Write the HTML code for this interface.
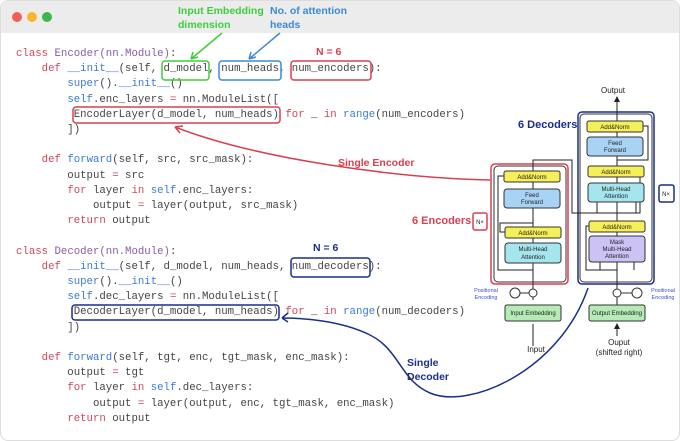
<!DOCTYPE html>
<html><head><meta charset="utf-8"><style>
body{margin:0;width:680px;height:441px;background:#fff;overflow:hidden;position:relative;font-family:"Liberation Sans",sans-serif}
.win{position:absolute;left:0;top:0;width:678px;height:439px;border:1px solid #ddd;border-radius:8px;overflow:hidden;background:#fff}
.bar{position:absolute;left:0;top:0;width:100%;height:32px;background:#ececec}
.dot{position:absolute;top:11px;width:10px;height:10px;border-radius:50%}
pre{position:absolute;left:16px;margin:0;font-family:"Liberation Mono",monospace;font-size:10.7px;line-height:15.2px;color:#444}
.k{color:#d0485a}.f{color:#3a7bd5}.c{color:#8a5ca8}
.lab{position:absolute;font-weight:bold;font-size:10.5px;line-height:14px}
</style></head><body>
<div class="win">
<div class="bar"></div>
<div class="dot" style="left:11px;background:#f0605a"></div>
<div class="dot" style="left:26px;background:#f7b530"></div>
<div class="dot" style="left:41px;background:#3cb84a"></div>
</div>
<pre style="top:47px"><span class="k">class</span> <span class="c">Encoder(nn.Module)</span>:
    <span class="k">def</span> <span class="f">__init__</span>(self, d_model, num_heads, num_encoders):
        <span class="f">super</span>().<span class="f">__init__</span>()
        <span class="f">self</span>.enc_layers <span class="k">=</span> nn.ModuleList([
         EncoderLayer(d_model, num_heads) <span class="k">for</span> _ <span class="k">in</span> <span class="f">range</span>(num_encoders)
        ])

    <span class="k">def</span> <span class="f">forward</span>(self, src, src_mask):
        output <span class="k">=</span> src
        <span class="k">for</span> layer <span class="k">in</span> <span class="f">self</span>.enc_layers:
            output <span class="k">=</span> layer(output, src_mask)
        <span class="k">return</span> output

<span class="k">class</span> <span class="c">Decoder(nn.Module)</span>:
    <span class="k">def</span> <span class="f">__init__</span>(self, d_model, num_heads, num_decoders):
        <span class="f">super</span>().<span class="f">__init__</span>()
        <span class="f">self</span>.dec_layers <span class="k">=</span> nn.ModuleList([
         DecoderLayer(d_model, num_heads) <span class="k">for</span> _ <span class="k">in</span> <span class="f">range</span>(num_decoders)
        ])

    <span class="k">def</span> <span class="f">forward</span>(self, tgt, enc, tgt_mask, enc_mask):
        output <span class="k">=</span> tgt
        <span class="k">for</span> layer <span class="k">in</span> <span class="f">self</span>.dec_layers:
            output <span class="k">=</span> layer(output, enc, tgt_mask, enc_mask)
        <span class="k">return</span> output</pre>
<div class="lab" style="left:178px;top:4px;color:#3ccf3c">Input Embedding<br>dimension</div>
<div class="lab" style="left:270px;top:4px;color:#3a8ad8">No. of attention<br>heads</div>
<div class="lab" style="left:316px;top:45px;color:#d84050">N = 6</div>
<div class="lab" style="left:313px;top:241px;color:#1a2f8a">N = 6</div>
<div class="lab" style="left:338px;top:156px;color:#d84050">Single Encoder</div>
<div class="lab" style="left:407px;top:356px;color:#1a2f8a">Single<br>Decoder</div>
<div class="lab" style="left:412px;top:214px;color:#d84050;font-size:11px">6 Encoders</div>
<div class="lab" style="left:518px;top:118px;color:#1a2f8a;font-size:11px">6 Decoders</div>
<svg width="680" height="441" style="position:absolute;left:0;top:0" font-family="Liberation Sans,sans-serif">
<defs><marker id="a" markerWidth="6" markerHeight="6" refX="5" refY="3" orient="auto"><path d="M0,0L6,3L0,6z" fill="#222"/></marker></defs>
<g fill="none" stroke-width="1.5">
<rect x="162" y="61" width="47" height="19" rx="3" stroke="#3ccf3c"/>
<rect x="219" y="61" width="62" height="19" rx="3" stroke="#3a8ad8"/>
<rect x="291" y="61" width="80" height="19" rx="3" stroke="#d84050"/>
<rect x="73" y="107" width="207" height="16" rx="3" stroke="#d84050"/>
<rect x="291" y="258" width="79" height="19" rx="3" stroke="#1a2f8a"/>
<rect x="72" y="305" width="207" height="15" rx="3" stroke="#1a2f8a"/>
<path d="M222,33L191,59M191,59L193,52M191,59L198,57" stroke="#3ccf3c"/>
<path d="M280,33L249,59M249,59L251,52M249,59L256,57" stroke="#3a8ad8"/>
<path d="M490,180C400,178 260,160 175,127M175,127L180,133M175,127L183,126" stroke="#d84050"/>
<path d="M588,288C560,370 470,410 430,393C400,380 400,350 370,335C340,320 300,318 282,318M282,318L288,313M282,318L288,322" stroke="#1a2f8a"/>
<rect x="491" y="164" width="77" height="120" rx="4" stroke="#d84050"/>
<rect x="494" y="166" width="72" height="116" rx="4" stroke="#333" stroke-width="1"/>
<rect x="578" y="112" width="76" height="172" rx="4" stroke="#1a2f8a"/>
<rect x="580" y="114" width="72" height="168" rx="4" stroke="#333" stroke-width="1"/>
<rect x="473" y="213" width="14" height="17" rx="2" stroke="#d84050"/>
<rect x="659" y="185" width="15" height="17" rx="2" stroke="#1a2f8a"/>
</g>
<g fill="none" stroke="#222" stroke-width="1">
<path d="M533,300V182M533,189V160H572V213H617" />
<path d="M533,270H498V176H504" />
<path d="M533,223H500V232H505"/>
<path d="M617,305V97" marker-end="url(#a)"/>
<path d="M617,270H586V226H589M617,213H640V171H644M617,160H648V126H643"/>
<path d="M597,213V202M617,213V202M636,213V202M517,263V255M533,263V255M549,263V255M600,270V262M617,270V262M634,270V262M533,208V200M617,156V150M617,177V171"/>
<path d="M533,346V324M617,336V324" marker-end="url(#a)"/>
</g>
<g stroke="#333" stroke-width="1" font-size="6" text-anchor="middle" fill="#222">
<rect x="504" y="171" width="56" height="11" rx="2" fill="#f5ef5a"/><text x="532" y="179" stroke="none">Add&amp;Norm</text>
<rect x="504" y="189" width="56" height="19" rx="3" fill="#a9d3f5"/><text x="532" y="197" stroke="none">Feed</text><text x="532" y="204" stroke="none">Forward</text>
<rect x="505" y="227" width="56" height="11" rx="2" fill="#f5ef5a"/><text x="533" y="235" stroke="none">Add&amp;Norm</text>
<rect x="505" y="243" width="56" height="20" rx="3" fill="#a5e6ee"/><text x="533" y="251" stroke="none">Multi-Head</text><text x="533" y="259" stroke="none">Attention</text>
<rect x="587" y="121" width="56" height="11" rx="2" fill="#f5ef5a"/><text x="615" y="129" stroke="none">Add&amp;Norm</text>
<rect x="587" y="137" width="56" height="19" rx="3" fill="#a9d3f5"/><text x="615" y="145" stroke="none">Feed</text><text x="615" y="152" stroke="none">Forward</text>
<rect x="588" y="166" width="56" height="11" rx="2" fill="#f5ef5a"/><text x="616" y="174" stroke="none">Add&amp;Norm</text>
<rect x="588" y="183" width="56" height="19" rx="3" fill="#a5e6ee"/><text x="616" y="191" stroke="none">Multi-Head</text><text x="616" y="198" stroke="none">Attention</text>
<rect x="589" y="221" width="56" height="11" rx="2" fill="#f5ef5a"/><text x="617" y="229" stroke="none">Add&amp;Norm</text>
<rect x="589" y="236" width="56" height="26" rx="3" fill="#cdc2f5"/><text x="617" y="244" stroke="none">Mask</text><text x="617" y="251" stroke="none">Multi-Head</text><text x="617" y="258" stroke="none">Attention</text>
<rect x="505" y="305" width="56" height="16" rx="2" fill="#b6ebb6"/><text x="533" y="315" stroke="none">Input Embedding</text>
<rect x="589" y="305" width="56" height="16" rx="2" fill="#b6ebb6"/><text x="617" y="315" stroke="none">Output Embedding</text>
<circle cx="515" cy="293" r="5" fill="#fff"/><circle cx="533" cy="293" r="4" fill="#fff"/>
<circle cx="617" cy="293" r="4" fill="#fff"/><circle cx="637" cy="293" r="5" fill="#fff"/>
<line x1="520" y1="293" x2="529" y2="293"/><line x1="621" y1="293" x2="632" y2="293"/>
<text x="536" y="352" stroke="none" font-size="8">Input</text>
<text x="619" y="345" stroke="none" font-size="8">Ouput</text>
<text x="619" y="355" stroke="none" font-size="8">(shifted right)</text>
<text x="613" y="93" stroke="none" font-size="8">Output</text>
<text x="480" y="224" stroke="none" font-size="6">N×</text>
<text x="666" y="196" stroke="none" font-size="6">N×</text>
<text x="486" y="292" stroke="none" font-size="5.5" fill="#3a4fd8">Positional</text><text x="486" y="299" stroke="none" font-size="5.5" fill="#3a4fd8">Encoding</text>
<text x="663" y="292" stroke="none" font-size="5.5" fill="#3a4fd8">Positional</text><text x="663" y="299" stroke="none" font-size="5.5" fill="#3a4fd8">Encoding</text>
</g>
</svg>
</body></html>
